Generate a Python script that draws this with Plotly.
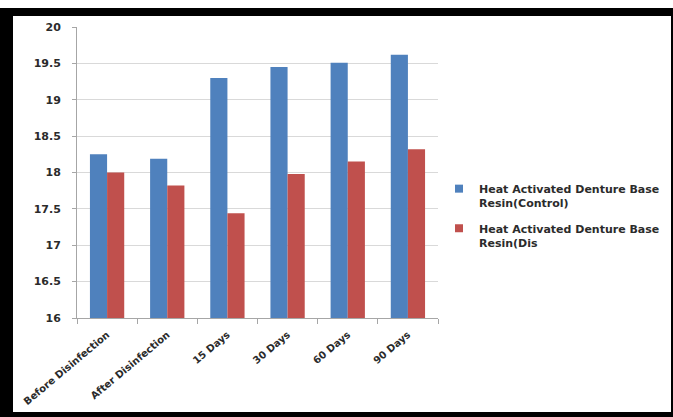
import plotly.graph_objects as go

categories = ["Before Disinfection", "After Disinfection", "15 Days", "30 Days", "60 Days", "90 Days"]
control_values = [18.25, 18.19, 19.30, 19.45, 19.51, 19.62]
disinfected_values = [18.00, 17.82, 17.44, 17.98, 18.15, 18.32]
series_names = ["Heat Activated Denture Base<br>Resin(Control)", "Heat Activated Denture Base<br>Resin(Dis"]
series_colors = ["#4F81BD", "#C0504D"]
y_ticks = [16, 16.5, 17, 17.5, 18, 18.5, 19, 19.5, 20]

W, H = 673, 417
L, R, T, B = 77, 438, 27, 318

def px(x):
    return (x - L) / (R - L)

def py(y):
    return (B - y) / (B - T)

font_main = dict(family="DejaVu Sans", size=11, color="#2b2b2b", weight="bold")
font_x = dict(family="DejaVu Sans", size=10, color="#2b2b2b", weight="bold")

fig = go.Figure()
for vals, name, color, grp in [(control_values, series_names[0], series_colors[0], "a"),
                               (disinfected_values, series_names[1], series_colors[1], "b")]:
    fig.add_trace(go.Bar(x=categories, y=vals, name=name, legendgroup=grp,
                         showlegend=False, marker=dict(color=color, line=dict(width=0))))
    # legend entry with a small square symbol
    fig.add_trace(go.Scatter(x=[None], y=[None], mode="markers", name=name, legendgroup=grp,
                             marker=dict(symbol="square", size=8, color=color),
                             showlegend=True, hoverinfo="skip"))

fig.update_layout(
    width=W, height=H,
    margin=dict(l=L, r=W - R, t=T, b=H - B, autoexpand=False),
    paper_bgcolor="white", plot_bgcolor="white",
    barmode="group", bargap=0.43, bargroupgap=0,
    font=font_main,
    showlegend=True,
    legend=dict(x=px(439), y=py(175), xanchor="left", yanchor="top",
                valign="top", font=font_main, tracegroupgap=8,
                itemwidth=30, bgcolor="rgba(0,0,0,0)"),
    xaxis=dict(type="category", tickangle=-40, ticks="outside", ticklen=5,
               tickson="boundaries", tickcolor="#a6a6a6", showline=True,
               linecolor="#a6a6a6", linewidth=1, showgrid=False, tickfont=font_x,
               ticklabelstandoff=6, fixedrange=True),
    yaxis=dict(range=[16, 20], tickvals=y_ticks, ticktext=[f"{v:g}" for v in y_ticks],
               ticks="outside", ticklen=4, tickcolor="#a6a6a6", showline=True,
               linecolor="#a6a6a6", linewidth=1, showgrid=True, gridcolor="#d9d9d9",
               gridwidth=1, zeroline=False, tickfont=font_main, ticklabelstandoff=9),
)

# black frame around the figure (decoration)
frame = [
    (0, 8, W, 16),
    (0, 8, 13, H),
    (0, 412, W, H),
    (671, 8, W, H),
]
for x0, y0, x1, y1 in frame:
    fig.add_shape(type="rect", xref="paper", yref="paper",
                  x0=px(x0), x1=px(x1), y0=py(y1), y1=py(y0),
                  fillcolor="black", line=dict(width=0), layer="above")

fig.write_html("out.html")
